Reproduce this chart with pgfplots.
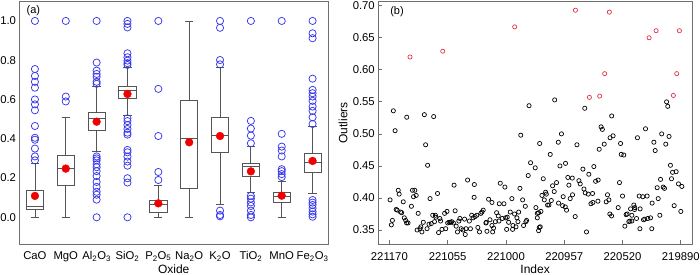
\documentclass[border=0pt]{standalone}
\usepackage{pgfplots}
\pgfplotsset{compat=1.18}
\usepgfplotslibrary{statistics}
\usepackage{fontspec}
\setmainfont{Liberation Sans}
\definecolor{framegray}{RGB}{110,110,110}
\definecolor{boxgray}{RGB}{85,85,85}
\definecolor{outblue}{RGB}{55,55,235}
\definecolor{meanred}{RGB}{240,0,0}
\definecolor{ptred}{RGB}{225,50,70}
\begin{document}
\begin{tikzpicture}
\pgfplotsset{
  every axis/.append style={
    scale only axis,
    axis line style={framegray, line width=0.8bp},
    tick label style={font=\fontsize{11.3bp}{13bp}\selectfont},
    label style={font=\fontsize{12bp}{14bp}\selectfont},
    /pgf/number format/assume math mode=true,
  },
  boxplot/draw direction=y,
  boxplot/box extend=0.56,
  boxplot/whisker extend=0.27,
}
% ---------------- (a) ----------------
\begin{axis}[
  at={(0bp,0bp)}, anchor=south west,
  width=308.5bp, height=242.8bp,
  xmin=0.5, xmax=10.5, ymin=-0.1375, ymax=1.099,
  xtick={1,2,3,4,5,6,7,8,9,10},
  xticklabels={CaO,MgO,Al\textsubscript{2}O\textsubscript{3},SiO\textsubscript{2},P\textsubscript{2}O\textsubscript{5},Na\textsubscript{2}O,K\textsubscript{2}O,TiO\textsubscript{2},MnO,Fe\textsubscript{2}O\textsubscript{3}},
  ytick={0,0.2,0.4,0.6,0.8,1.0},
  yticklabel style={/pgf/number format/.cd, fixed, fixed zerofill, precision=1},
  major tick length=0pt,
  xticklabel style={anchor=base, yshift=-15bp},
  xlabel={Oxide},
  xlabel style={at={(axis description cs:0.5,-0.1207)}, anchor=base},
]
\addplot[boxgray, line width=0.8bp, boxplot prepared={draw position=1, lower whisker=0, lower quartile=0.041, median=0.054, upper quartile=0.136, upper whisker=0.275}] coordinates {};
\addplot[boxgray, line width=0.8bp, boxplot prepared={draw position=2, lower whisker=0, lower quartile=0.160, median=0.248, upper quartile=0.314, upper whisker=0.511}] coordinates {};
\addplot[boxgray, line width=0.8bp, boxplot prepared={draw position=3, lower whisker=0.334, lower quartile=0.445, median=0.503, upper quartile=0.536, upper whisker=0.666}] coordinates {};
\addplot[boxgray, line width=0.8bp, boxplot prepared={draw position=4, lower whisker=0.521, lower quartile=0.603, median=0.645, upper quartile=0.669, upper whisker=0.765}] coordinates {};
\addplot[boxgray, line width=0.8bp, boxplot prepared={draw position=5, lower whisker=0, lower quartile=0.025, median=0.066, upper quartile=0.088, upper whisker=0.160}] coordinates {};
\addplot[boxgray, line width=0.8bp, boxplot prepared={draw position=6, lower whisker=0, lower quartile=0.148, median=0.404, upper quartile=0.593, upper whisker=1.0}] coordinates {};
\addplot[boxgray, line width=0.8bp, boxplot prepared={draw position=7, lower whisker=0.065, lower quartile=0.329, median=0.418, upper quartile=0.509, upper whisker=0.762}] coordinates {};
\addplot[boxgray, line width=0.8bp, boxplot prepared={draw position=8, lower whisker=0.126, lower quartile=0.207, median=0.258, upper quartile=0.272, upper whisker=0.360}] coordinates {};
\addplot[boxgray, line width=0.8bp, boxplot prepared={draw position=9, lower whisker=0, lower quartile=0.075, median=0.104, upper quartile=0.126, upper whisker=0.185}] coordinates {};
\addplot[boxgray, line width=0.8bp, boxplot prepared={draw position=10, lower whisker=0.122, lower quartile=0.231, median=0.280, upper quartile=0.323, upper whisker=0.462}] coordinates {};
% outliers
\addplot[only marks, mark=o, mark size=3.6bp, outblue, mark options={line width=0.75bp}] coordinates {
(1,1.0) (1,0.755) (1,0.72) (1,0.69) (1,0.66) (1,0.60) (1,0.575) (1,0.545) (1,0.465) (1,0.405) (1,0.395) (1,0.35) (1,0.31) (1,0.29)
(2,1.0) (2,0.615) (2,0.59)
(3,1.0) (3,0.788) (3,0.747) (3,0.73) (3,0.716) (3,0.69) (3,0.68) (3,0.31) (3,0.30) (3,0.29) (3,0.27) (3,0.255) (3,0.235) (3,0.21) (3,0.18) (3,0.155) (3,0.13) (3,0.115) (3,0.09) (3,0.0)
(4,1.0) (4,0.985) (4,0.967) (4,0.835) (4,0.815) (4,0.798) (4,0.785) (4,0.776) (4,0.504) (4,0.49) (4,0.47) (4,0.45) (4,0.431) (4,0.421) (4,0.343) (4,0.331) (4,0.309) (4,0.284) (4,0.263) (4,0.199) (4,0.177) (4,0.0)
(5,1.0) (5,0.654) (5,0.414) (5,0.231) (5,0.19)
(7,1.0) (7,0.965) (7,0.801) (7,0.779) (7,0.034) (7,0.012) (7,0.005)
(8,1.0) (8,0.491) (8,0.452) (8,0.416) (8,0.377) (8,0.109) (8,0.095) (8,0.076) (8,0.058) (8,0.034) (8,0.012) (8,0.0)
(9,1.0) (9,0.425) (9,0.36) (9,0.34) (9,0.31) (9,0.245) (9,0.235) (9,0.22) (9,0.205)
(10,1.0) (10,0.937) (10,0.912) (10,0.706) (10,0.649) (10,0.632) (10,0.615) (10,0.593) (10,0.564) (10,0.542) (10,0.509) (10,0.475) (10,0.088) (10,0.075) (10,0.063) (10,0.046) (10,0.029) (10,0.015) (10,0.003)
};
% means
\addplot[only marks, mark=*, mark size=3.9bp, meanred] coordinates {
(1,0.109) (2,0.248) (3,0.487) (4,0.628) (5,0.071) (6,0.382) (7,0.414) (8,0.234) (9,0.110) (10,0.287)
};
\node[anchor=base west, font=\fontsize{11bp}{13bp}\selectfont] at (rel axis cs:0.012,0.9506) {(a)};
\end{axis}
% ---------------- (b) ----------------
\begin{axis}[
  at={(358.8bp,0bp)}, anchor=south west,
  width=313.7bp, height=242.8bp,
  xmin=-9.5, xmax=259.6, ymin=0.3277, ymax=0.7066,
  xtick={0,50,100,150,200,250},
  xticklabels={221170,221055,221000,220957,220520,219890},
  ytick={0.35,0.40,0.45,0.50,0.55,0.60,0.65,0.70},
  yticklabel style={/pgf/number format/.cd, fixed, fixed zerofill, precision=2},
  tick pos=left, tick align=inside, major tick length=4bp,
  tick style={framegray, line width=0.7bp},
  xticklabel style={anchor=base, yshift=-16.5bp},
  xlabel={Index},
  xlabel style={at={(axis description cs:0.5,-0.1207)}, anchor=base},
  ylabel={Outliers},
  ylabel style={at={(axis description cs:-0.1125,0.5)}, anchor=center},
]
\addplot[only marks, mark=o, mark size=2.1bp, black, mark options={line width=0.7bp}] coordinates {
(3.4,0.536) (4.9,0.505) (14.9,0.526) (30.0,0.530) (38.0,0.527) (112.7,0.498) (119.8,0.544) (141.8,0.553)
(147.6,0.500) (167.6,0.540) (181.6,0.511) (182.7,0.507) (190.7,0.528) (189.3,0.494) (191.9,0.497) (212.8,0.494)
(219.7,0.508) (233.6,0.500) (237.8,0.550) (238.8,0.543) (239.9,0.496)
(31.1,0.483) (32.8,0.451) (0.6,0.397) (2.6,0.365) (1.7,0.358) (7.6,0.412) (8.4,0.406) (5.8,0.382) (6.7,0.381)
(9.6,0.378) (10.5,0.377) (11.9,0.394) (12.8,0.369) (14.0,0.365) (14.8,0.361) (16.0,0.361) (18.9,0.387)
(19.8,0.412) (21.8,0.412) (20.7,0.402) (23.0,0.404) (24.7,0.376) (23.8,0.350) (26.2,0.352) (27.9,0.347)
(27.0,0.355) (29.1,0.362) (32.3,0.352) (34.9,0.399) (34.0,0.359) (36.0,0.360) (37.2,0.373) (39.5,0.373)
(38.7,0.363) (41.3,0.407) (39.8,0.370) (42.2,0.346) (43.3,0.368) (43.9,0.364) (45.1,0.351) (47.4,0.376)
(48.3,0.352) (49.4,0.379) (50.0,0.361) (51.2,0.362) (52.3,0.362) (53.5,0.363) (55.5,0.420) (56.4,0.380)
(54.9,0.361) (57.3,0.356) (58.4,0.347) (59.6,0.364) (60.5,0.368) (61.6,0.352) (63.1,0.350) (64.5,0.367)
(65.7,0.352) (67.1,0.428) (68.6,0.364) (69.5,0.352) (70.6,0.373) (71.8,0.369) (72.9,0.421) (72.7,0.401)
(73.5,0.371) (75.0,0.373) (75.9,0.354) (77.3,0.347) (78.5,0.376) (79.4,0.378) (80.5,0.381) (82.8,0.361) (65.1,0.343)
(128.9,0.485) (144.9,0.487) (160.9,0.483) (125.1,0.447) (121.1,0.455) (119.1,0.435) (138.0,0.468) (146.3,0.450)
(151.1,0.454) (166.0,0.445) (171.1,0.437) (95.1,0.423) (99.1,0.417) (112.0,0.415) (132.0,0.430) (140.0,0.419)
(143.4,0.424) (153.1,0.432) (156.9,0.431) (162.6,0.427) (163.7,0.422) (166.9,0.414) (168.0,0.408) (170.6,0.406)
(154.0,0.420) (157.1,0.405) (149.1,0.402) (155.1,0.399) (141.4,0.410) (134.0,0.409) (134.6,0.406) (130.9,0.404)
(132.9,0.397) (138.9,0.396) (135.7,0.389) (136.9,0.389) (145.1,0.392) (148.6,0.388) (150.9,0.386) (152.0,0.381)
(159.4,0.371) (169.1,0.347) (85.1,0.398) (88.0,0.393) (94.3,0.391) (98.3,0.391) (105.1,0.399) (114.3,0.397)
(116.6,0.387) (110.9,0.378) (103.7,0.378) (107.4,0.375) (125.7,0.385) (126.9,0.376) (128.0,0.377) (130.0,0.379)
(92.0,0.377) (93.4,0.372) (96.9,0.368) (99.7,0.369) (101.1,0.370) (109.4,0.369) (86.3,0.366) (83.1,0.362)
(90.9,0.363) (88.0,0.357) (94.0,0.364) (102.3,0.362) (110.3,0.363) (117.1,0.363) (117.7,0.365) (106.0,0.357)
(108.6,0.355) (115.1,0.357) (126.9,0.369) (128.6,0.354) (128.0,0.349) (129.4,0.355) (100.6,0.351) (105.7,0.351)
(89.4,0.353) (83.7,0.348) (88.6,0.347) (172.9,0.391)
(184.3,0.484) (180.0,0.476) (198.3,0.485) (226.9,0.487) (228.0,0.474) (237.1,0.484) (198.9,0.468) (201.1,0.467)
(175.4,0.449) (176.9,0.426) (179.1,0.428) (197.4,0.424) (241.1,0.451) (242.9,0.440) (246.0,0.441) (242.0,0.430)
(232.6,0.429) (248.0,0.422) (250.9,0.418) (229.7,0.416) (234.9,0.417) (236.0,0.415) (174.3,0.407) (187.1,0.405)
(188.3,0.397) (186.0,0.394) (200.0,0.403) (214.3,0.403) (217.4,0.402) (221.1,0.403) (174.6,0.393) (178.9,0.395)
(225.4,0.392) (230.6,0.399) (244.3,0.388) (250.0,0.379) (196.3,0.385) (209.7,0.389) (210.5,0.385) (206.9,0.383)
(210.3,0.382) (215.1,0.383) (189.1,0.375) (190.6,0.372) (203.1,0.374) (204.0,0.375) (208.0,0.373) (232.0,0.373)
(202.0,0.356) (206.3,0.364) (208.0,0.364) (212.0,0.368) (218.0,0.366) (219.1,0.367) (221.7,0.368) (224.0,0.369)
(214.9,0.352) (225.1,0.352) (205.4,0.363)
};
\addplot[only marks, mark=o, mark size=2.1bp, ptred, mark options={line width=0.7bp}] coordinates {
(17.7,0.620) (45.8,0.629) (107.5,0.667) (159.6,0.693) (171.6,0.557) (180.4,0.559) (184.7,0.594)
(188.7,0.690) (222.8,0.650) (228.8,0.661) (243.6,0.560) (246.5,0.594) (248.8,0.661)
};
\node[anchor=base west, font=\fontsize{11bp}{13bp}\selectfont] at (rel axis cs:0.027,0.9485) {(b)};
\end{axis}
\pgfresetboundingbox
\path[use as bounding box] (-19.5bp,-30.7bp) rectangle (680.5bp,244.3bp);
\end{tikzpicture}
\end{document}
